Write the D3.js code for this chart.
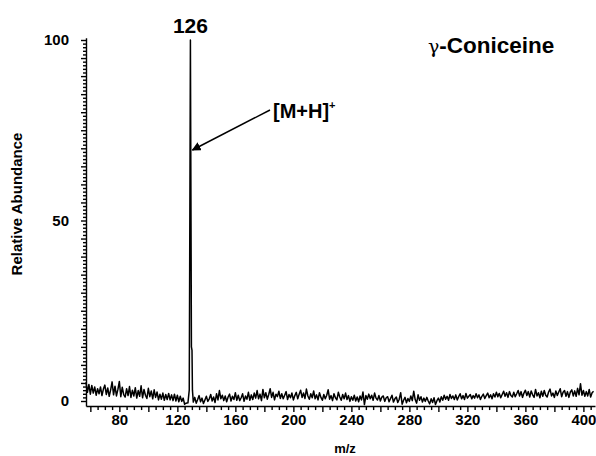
<!DOCTYPE html>
<html>
<head>
<meta charset="utf-8">
<script src="https://cdn.jsdelivr.net/npm/d3@7/dist/d3.min.js"></script>
<style>
  body { margin: 0; background: #fff; }
  svg { display: block; font-family: "Liberation Sans", Arial, sans-serif; }
</style>
</head>
<body>
<svg></svg>
<script>
// constants
const WIDTH = 596;
const HEIGHT = 456;

// data
const leftStart = 57;   // m/z of first baseline point, step 1
const noiseLeft = [
  5.2, 2.4, 4.6, 1.9, 4.3, 2.2, 3.9, 1.6, 3.4, 2.0,
  3.9, 1.5, 3.3, 4.4, 1.8, 3.6, 1.3, 3.1, 5.3, 1.7,
  4.1, 1.4, 3.2, 5.4, 1.2, 3.8, 1.8, 1.1, 3.4, 1.5,
  4.0, 1.0, 3.0, 1.4, 3.7, 0.8, 2.9, 1.3, 4.2, 0.9,
  3.2, 1.6, 0.7, 3.5, 1.2, 2.8, 0.6, 3.1, 1.0, 2.5,
  0.3, 1.9, 0.5, 2.2, 0.2, 1.8, 0.4, 2.1, 0.3, 1.7,
  0.1, 1.9, 0.0, 1.6, -0.2, 1.3, -0.1, 0.8, -0.9, -0.6
];
const peakMz = [127.3, 128.2, 128.6, 129.0, 129.5, 129.7, 130.1, 130.4, 131.0];
const peakAbund = [-0.5, 3, 50, 100, 40, 15, 14, 3, -0.3];
const rightStart = 132;
const noiseRight = [
  1.0, -0.6, 0.4, 1.5, -0.2, 0.8, -0.7, 0.3, 1.3, -0.1,
  0.6, 1.8, 0.0, 1.1, -0.4, 2.0, 0.3, 2.9, 0.6, 1.6,
  0.1, 1.4, -0.2, 1.1, 1.9, 0.0, 1.3, 0.4, 2.3, 0.2,
  1.6, 0.1, 0.9, 2.0, -0.1, 1.4, 0.5, 2.4, 0.2, 1.7,
  0.4, 2.2, 0.8, 2.9, 0.6, 1.9, 0.1, 3.2, 0.9, 2.3,
  0.5, 1.8, 3.4, 1.0, 2.4, 0.3, 1.9, 1.2, 2.7, 0.7,
  2.0, 0.6, 1.6, 2.6, 0.4, 1.8, 0.9, 2.2, 0.3, 1.5,
  2.4, 0.6, 1.9, 3.0, 1.0, 2.2, 0.7, 3.3, 1.4, 0.5,
  2.0, 0.9, 2.8, 0.6, 1.7, 0.3, 2.3, 1.0, 0.2, 1.8,
  0.6, 1.6, 3.1, 0.5, 1.5, 0.1, 2.0, 0.9, 0.3, 2.4,
  1.1, 0.2, 1.8, 0.6, 2.2, 0.4, 1.5, -0.1, 1.2, 0.2,
  1.6, 0.0, 1.1, -0.2, 1.4, 0.3, 2.5, -1.0, 1.5, 0.5,
  1.9, 0.6, 1.6, 0.2, 2.2, 0.8, 0.3, 1.5, 0.0, 1.1,
  1.4, -0.1, 0.9, 1.2, -0.2, 0.7, 1.6, -0.3, 0.6, 1.1,
  -0.4, 0.5, 2.3, -0.9, 0.2, 1.0, -0.5, 0.7, -0.1, 1.4,
  0.1, 2.7, 0.4, -0.6, 1.7, 0.2, 1.2, -0.3, 0.8, -0.1,
  1.0, 0.0, -0.8, 0.6, -0.4, 0.9, -1.0, 0.1, 0.8, -0.3,
  1.2, 0.2, 1.6, 0.5, 1.3, 0.2, 1.8, 0.7, 1.4, 0.4,
  1.7, 0.3, 1.2, 2.0, 0.6, 1.5, 0.4, 2.1, 0.8, 1.3,
  1.8, 0.6, 1.5, 0.8, 2.0, 0.9, 1.7, 0.4, 1.3, 1.9,
  0.7, 1.5, 2.2, 0.9, 1.7, 0.6, 2.0, 1.1, 2.4, 1.2,
  2.1, 0.9, 1.8, 2.7, 1.3, 2.3, 1.0, 2.6, 1.5, 1.1,
  2.4, 1.2, 2.0, 2.9, 1.4, 2.6, 1.0, 2.2, 3.0, 1.5,
  2.6, 1.1, 2.8, 1.7, 1.0, 3.2, 1.4, 2.3, 0.9, 2.7,
  1.3, 2.9, 1.6, 1.1, 2.5, 3.3, 1.4, 2.2, 1.0, 2.8,
  1.5, 2.5, 3.4, 1.2, 2.4, 2.9, 1.3, 2.6, 1.0, 2.5,
  3.1, 1.4, 2.8, 1.3, 3.5, 1.7, 4.8, 1.6, 2.9, 1.3,
  2.6, 1.4, 3.2, 1.1, 2.3, 2.7
];
const xTickLabels = [80, 120, 160, 200, 240, 280, 320, 360, 400];
const yTickLabels = [0, 50, 100];
const peakLabel = '126';
const compound = 'Coniceine';

// combine into [mz, abundance]
const spectrum = [
  ...noiseLeft.map((v, i) => [leftStart + i, v]),
  ...peakMz.map((m, i) => [m, peakAbund[i]]),
  ...noiseRight.map((v, i) => [rightStart + i, v])
];

// svg
const svg = d3.select('svg')
  .attr('width', WIDTH)
  .attr('height', HEIGHT);

// scales
const x = d3.scaleLinear().domain([57, 408]).range([86, 595]);
const y = d3.scaleLinear().domain([0, 100]).range([401, 40]);
const yAxisScale = d3.scaleLinear().domain([-1.4, 100.6]).range([y(-1.4), y(100.6)]);

// x axis
const xAxis = svg.append('g')
  .attr('transform', `translate(0, ${y(-1.4)})`)
  .call(d3.axisBottom(x)
    .tickValues(d3.range(60, 408, 5))
    .tickSize(4)
    .tickSizeOuter(0)
    .tickFormat(d => xTickLabels.includes(d) ? d : ''));
xAxis.selectAll('.tick line')
  .attr('y2', d => d % 20 === 0 ? 6 : 4);
xAxis.selectAll('.tick text')
  .attr('y', 8)
  .attr('font-size', 15)
  .attr('font-weight', 'bold')
  .attr('font-family', '"Liberation Sans", Arial, sans-serif');

// y axis
const yAxis = svg.append('g')
  .attr('transform', `translate(${x(57)}, 0)`)
  .call(d3.axisLeft(yAxisScale)
    .tickValues(d3.range(0, 101, 1))
    .tickSize(3)
    .tickSizeOuter(0)
    .tickFormat(d => yTickLabels.includes(d) ? d : ''));
yAxis.selectAll('.tick line')
  .attr('x2', d => d % 5 === 0 ? -5 : -3);
yAxis.selectAll('.tick text')
  .attr('x', -17)
  .attr('font-size', 15)
  .attr('font-weight', 'bold')
  .attr('font-family', '"Liberation Sans", Arial, sans-serif');

svg.selectAll('.domain, .tick line')
  .attr('stroke', '#000')
  .attr('stroke-width', 1.4);

// spectrum
const line = d3.line()
  .x(d => x(d[0]))
  .y(d => y(d[1]));

svg.append('path')
  .datum(spectrum)
  .attr('fill', 'none')
  .attr('stroke', '#000')
  .attr('stroke-width', 1.5)
  .attr('stroke-linejoin', 'round')
  .attr('d', line);

// axis titles
svg.append('text')
  .attr('x', 345)
  .attr('y', 453)
  .attr('text-anchor', 'middle')
  .attr('font-size', 13)
  .attr('font-weight', 'bold')
  .text('m/z');

svg.append('text')
  .attr('transform', `translate(22, 204) rotate(-90)`)
  .attr('text-anchor', 'middle')
  .attr('font-size', 15)
  .attr('font-weight', 'bold')
  .text('Relative Abundance');

// peak label
svg.append('text')
  .attr('x', x(129.0))
  .attr('y', 33)
  .attr('text-anchor', 'middle')
  .attr('font-size', 21)
  .attr('font-weight', 'bold')
  .text(peakLabel);

// compound name
const title = svg.append('text')
  .attr('x', 428)
  .attr('y', 53)
  .attr('font-size', 22.5);
title.append('tspan')
  .attr('font-family', '"DejaVu Serif", serif')
  .attr('font-size', 19)
  .text('γ');
title.append('tspan')
  .attr('font-weight', 'bold')
  .text('-' + compound);

// annotation with arrow
svg.append('defs').append('marker')
  .attr('id', 'arrow')
  .attr('viewBox', '0 0 10 10')
  .attr('refX', 9)
  .attr('refY', 5)
  .attr('markerWidth', 6)
  .attr('markerHeight', 6)
  .attr('orient', 'auto')
  .append('path')
  .attr('d', 'M0,0 L10,5 L0,10 z')
  .attr('fill', '#000');

svg.append('line')
  .attr('x1', 270)
  .attr('y1', 110)
  .attr('x2', x(129.0) + 2)
  .attr('y2', 150)
  .attr('stroke', '#000')
  .attr('stroke-width', 1.5)
  .attr('marker-end', 'url(#arrow)');

const ann = svg.append('text')
  .attr('x', 273)
  .attr('y', 118)
  .attr('font-size', 20)
  .attr('font-weight', 'bold');
ann.append('tspan').text('[M+H]');
ann.append('tspan')
  .attr('font-size', 11)
  .attr('dy', -9)
  .text('+');
</script>
</body>
</html>
